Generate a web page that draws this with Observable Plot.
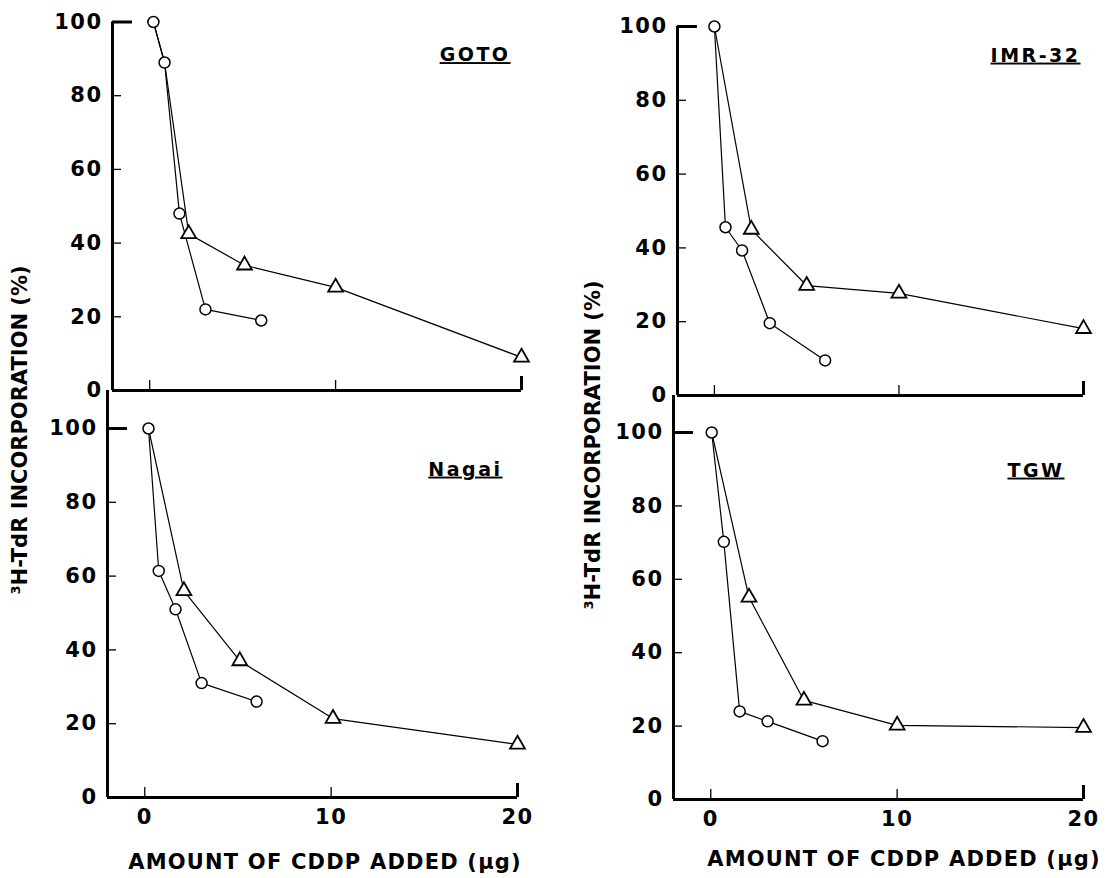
<!DOCTYPE html>
<html><head><meta charset="utf-8">
<script src="https://cdn.jsdelivr.net/npm/d3@7"></script>
<script src="https://cdn.jsdelivr.net/npm/@observablehq/plot@0.6"></script>
<style>
body{margin:0;background:#fff;}
#wrap{position:relative;width:1109px;height:878px;background:#fff;overflow:hidden;font-family:"DejaVu Sans",sans-serif;font-weight:bold;color:#000;}
.p{position:absolute;}
.lab{position:absolute;white-space:nowrap;font-size:21px;line-height:1;transform-origin:center center;}
</style></head><body><div id="wrap"></div>
<script>
// ---- data ----
const xTicks = [0, 10, 20];
const yTicks = [0, 20, 40, 60, 80, 100];
const xDomain = [-2, 20];

const panelNames = ["GOTO", "IMR-32", "Nagai", "TGW"];

const gotoCircleX = [0.2, 0.8, 1.6, 3.0, 6.0];
const gotoCircleY = [100, 89, 48, 22, 19];
const gotoTriangleX = [2.1, 5.1, 10.0, 20];
const gotoTriangleY = [42.5, 34, 28, 9];

const imrCircleX = [0.0, 0.6, 1.5, 3.0, 6.0];
const imrCircleY = [100, 45.6, 39.3, 19.6, 9.5];
const imrTriangleX = [2.0, 5.0, 10.0, 20];
const imrTriangleY = [45, 29.8, 27.7, 18.1];

const nagaiCircleX = [0.2, 0.75, 1.65, 3.05, 6.0];
const nagaiCircleY = [100, 61.4, 51, 31, 26];
const nagaiTriangleX = [2.1, 5.1, 10.1, 20];
const nagaiTriangleY = [56, 37, 21.4, 14.4];

const tgwCircleX = [0.05, 0.7, 1.55, 3.05, 6.0];
const tgwCircleY = [100, 70.2, 24, 21.3, 15.9];
const tgwTriangleX = [2.05, 5.0, 10.0, 20];
const tgwTriangleY = [55.1, 27, 20.2, 19.6];

// number of leading circle points shared by the triangle curve
const gotoTriangleLead = 2, imrTriangleLead = 1, nagaiTriangleLead = 1, tgwTriangleLead = 1;

const yLabel = "³H-TdR INCORPORATION (%)";
const xLabel = "AMOUNT OF CDDP ADDED (\u03BCg)";

const wrap = document.getElementById("wrap");

function panel(o) {
  const circles = o.cx.map((x, i) => ({x, y: o.cy[i]}));
  const triangles = o.tx.map((x, i) => ({x, y: o.ty[i]}));
  const triLine = circles.slice(0, o.lead).concat(triangles);
  const fw = o.width - o.mL - o.mR;
  const fh = o.height - o.mT - o.mB;
  const marks = [
    Plot.ruleX([xDomain[0]], {strokeWidth: 3}),
    Plot.ruleY([0], {strokeWidth: 3}),
    Plot.tickY(yTicks.slice(1, -1), {y: d => d, insetRight: fw - 9, strokeWidth: 1.3}),
    Plot.tickY([100], {y: d => d, insetRight: fw - 20, strokeWidth: 3}),
    Plot.tickX(xTicks.slice(0, -1), {x: d => d, insetTop: fh - 10, strokeWidth: 1.3}),
    Plot.tickX([20], {x: d => d, insetTop: fh - 14, strokeWidth: 3}),
    Plot.axisY({ticks: yTicks, tickSize: 0, tickPadding: 10, label: null, fontSize: 21}),
    Plot.line(circles, {x: "x", y: "y", stroke: "#000", strokeWidth: 1.2}),
    Plot.line(triLine, {x: "x", y: "y", stroke: "#000", strokeWidth: 1.2}),
    Plot.dot(circles, {x: "x", y: "y", r: 5.5, symbol: "circle", fill: "white", stroke: "black", strokeWidth: 1.5}),
    Plot.dot(triangles, {x: "x", y: "y", r: 5.5, symbol: "triangle", fill: "white", stroke: "black", strokeWidth: 1.8}),
    Plot.text([o.name], {text: d => d, frameAnchor: "top-right", textAnchor: "end", lineAnchor: "middle", dx: o.tdx, dy: o.tdy, fontSize: 19, fontWeight: "bold"})
  ];
  if (o.showX) marks.push(Plot.axisX({ticks: xTicks, tickSize: 0, tickPadding: 12, label: null, fontSize: 21}));
  const svg = Plot.plot({
    width: o.width, height: o.height,
    marginLeft: o.mL, marginRight: o.mR, marginTop: o.mT, marginBottom: o.mB,
    insetTop: o.insetTop || 0,
    x: {domain: xDomain, axis: null},
    y: {domain: [0, 100], axis: null},
    style: {background: "transparent", fontFamily: "DejaVu Sans", fontWeight: "bold", fontSize: "21px", color: "#000", overflow: "visible"},
    marks
  });
  svg.querySelectorAll("g[aria-label='text'] text").forEach(t => {
    t.style.textDecoration = "underline";
    t.style.textDecorationThickness = "2px";
    t.style.textUnderlineOffset = "3px";
    t.style.letterSpacing = "2.5px";
  });
  svg.querySelectorAll("g[aria-label='y-axis tick label'] text, g[aria-label='x-axis tick label'] text").forEach(t => {
    t.style.letterSpacing = "1.5px";
  });
  svg.classList.add("p");
  svg.style.left = o.left + "px";
  svg.style.top = o.top + "px";
  wrap.appendChild(svg);
}

panel({name: panelNames[0], cx: gotoCircleX, cy: gotoCircleY, tx: gotoTriangleX, ty: gotoTriangleY, lead: gotoTriangleLead,
  left: 0, top: 0, width: 560, height: 400, mL: 112, mR: 39, mT: 21.5, mB: 10, showX: false, tdx: -11, tdy: 33});
panel({name: panelNames[1], cx: imrCircleX, cy: imrCircleY, tx: imrTriangleX, ty: imrTriangleY, lead: imrTriangleLead,
  left: 560, top: 0, width: 549, height: 405, mL: 117, mR: 26, mT: 26, mB: 10, showX: false, tdx: -3, tdy: 29});
panel({name: panelNames[2], cx: nagaiCircleX, cy: nagaiCircleY, tx: nagaiTriangleX, ty: nagaiTriangleY, lead: nagaiTriangleLead,
  left: 0, top: 380, width: 560, height: 498, mL: 107, mR: 43, mT: 10, mB: 81, insetTop: 38, showX: true, tdx: -15, tdy: 79});
panel({name: panelNames[3], cx: tgwCircleX, cy: tgwCircleY, tx: tgwTriangleX, ty: tgwTriangleY, lead: tgwTriangleLead,
  left: 560, top: 385, width: 549, height: 493, mL: 113, mR: 26, mT: 10, mB: 79, insetTop: 37, showX: true, tdx: -19, tdy: 75});

function label(text, cx, cy, rotate) {
  const d = document.createElement("div");
  d.className = "lab";
  d.textContent = text;
  d.style.left = cx + "px";
  d.style.top = cy + "px";
  d.style.transform = "translate(-50%,-50%)" + (rotate ? " rotate(-90deg)" : "");
  wrap.appendChild(d);
  return d;
}
label(yLabel, 20, 430, true);
label(yLabel, 593, 445, true);
const xl1 = label(xLabel, 325, 862, false); xl1.style.letterSpacing = "1.2px";
const xl2 = label(xLabel, 904, 859, false); xl2.style.letterSpacing = "1.2px";
</script>
</body></html>
